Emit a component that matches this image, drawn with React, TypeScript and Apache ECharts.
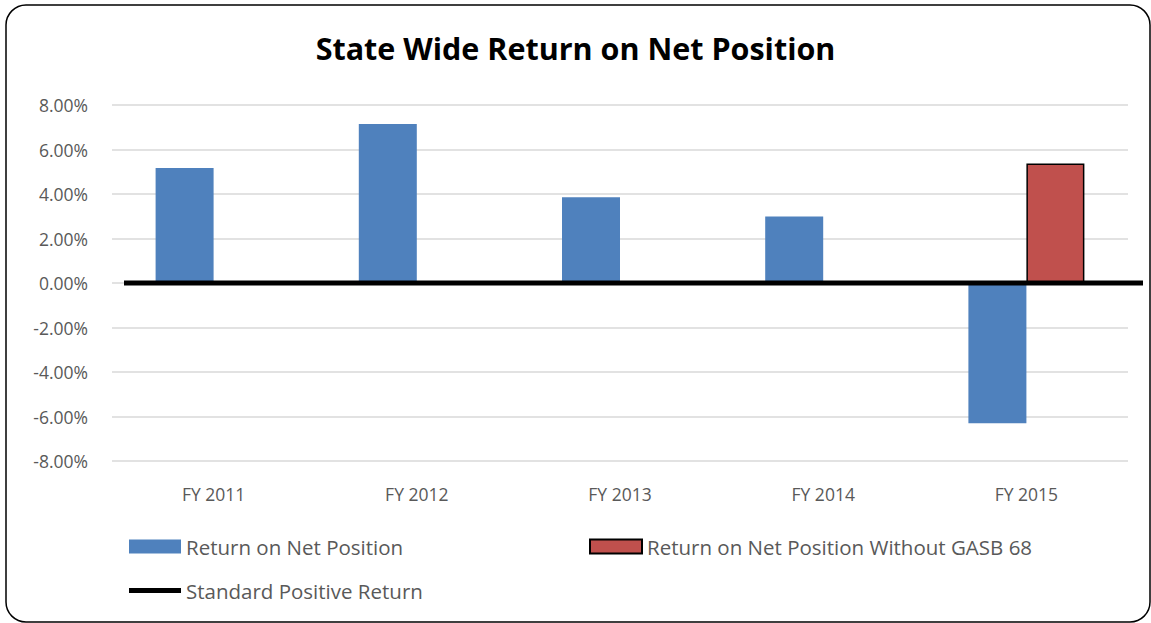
import React, { useEffect, useRef } from "react";
import * as echarts from "echarts";

const categories = ["FY 2011", "FY 2012", "FY 2013", "FY 2014", "FY 2015"];
const returnOnNetPosition = [5.17, 7.15, 3.85, 2.99, -6.3];
const returnWithoutGasb68 = [null, null, null, null, 5.37];
const zeroLineX = [0, 1];
const zeroLineY = [0, 0];
const yTicks = { min: -8, max: 8, interval: 2 };

const FONT = "'Open Sans', 'Noto Sans', sans-serif";

export default function App() {
  const ref = useRef<HTMLDivElement>(null);
  useEffect(() => {
    if (!ref.current) return;
    const chart = echarts.init(ref.current, null, { renderer: "svg" });
    const legendText = { fontFamily: FONT, fontSize: 20.5, color: "#595959" };
    chart.setOption({
      animation: false,
      backgroundColor: "#fff",
      title: {
        text: "State Wide Return on Net Position",
        left: "center",
        top: 27,
        textStyle: { fontFamily: FONT, fontWeight: "bold", fontSize: 30.5, color: "#000" },
      },
      graphic: [
        {
          type: "rect",
          shape: { x: 6, y: 5, width: 1144, height: 617, r: 20 },
          style: { fill: "none", stroke: "#000", lineWidth: 1.5 },
          silent: true,
          z: 100,
        },
      ],
      legend: [
        {
          data: [{ name: "Return on Net Position", icon: "rect" }],
          left: 124,
          top: 531,
          itemWidth: 52,
          itemHeight: 14,
          textStyle: legendText,
        },
        {
          data: [{ name: "Return on Net Position Without GASB 68", icon: "rect" }],
          left: 584,
          top: 531,
          itemWidth: 52,
          itemHeight: 14,
          textStyle: legendText,
        },
        {
          data: [{ name: "Standard Positive Return", icon: "rect", itemStyle: { color: "#000" } }],
          left: 124,
          top: 575,
          itemWidth: 52,
          itemHeight: 5,
          textStyle: legendText,
        },
      ],
      grid: [
        { left: 112, right: 23, top: 105, bottom: 162, containLabel: false },
        { left: 124, right: 8, top: 105, bottom: 162, containLabel: false },
      ],
      xAxis: [
        {
          type: "category",
          data: categories,
          gridIndex: 0,
          axisLine: { show: false, onZero: false },
          axisTick: { show: false },
          axisLabel: { margin: 24, fontFamily: FONT, fontSize: 17.5, color: "#595959" },
        },
        { type: "value", gridIndex: 1, min: 0, max: 1, show: false },
      ],
      yAxis: [
        {
          type: "value",
          gridIndex: 0,
          min: yTicks.min,
          max: yTicks.max,
          interval: yTicks.interval,
          axisLine: { show: false },
          axisTick: { show: false },
          axisLabel: {
            margin: 24,
            fontFamily: FONT,
            fontSize: 17.5,
            color: "#595959",
            formatter: (v: number) => v.toFixed(2) + "%",
          },
          splitLine: { lineStyle: { color: "#d9d9d9", width: 1.5 } },
        },
        { type: "value", gridIndex: 1, min: yTicks.min, max: yTicks.max, show: false },
      ],
      series: [
        {
          name: "Return on Net Position",
          type: "bar",
          xAxisIndex: 0,
          yAxisIndex: 0,
          data: returnOnNetPosition,
          barWidth: 58,
          barGap: "0%",
          itemStyle: { color: "#4f81bd" },
        },
        {
          name: "Return on Net Position Without GASB 68",
          type: "bar",
          xAxisIndex: 0,
          yAxisIndex: 0,
          data: returnWithoutGasb68,
          barWidth: 58,
          barGap: "0%",
          itemStyle: { color: "#c0504d", borderColor: "#000", borderWidth: 1.5 },
        },
        {
          name: "Standard Positive Return",
          type: "line",
          xAxisIndex: 1,
          yAxisIndex: 1,
          data: zeroLineX.map((x, i) => [x, zeroLineY[i]]),
          symbol: "none",
          lineStyle: { color: "#000", width: 5 },
          itemStyle: { color: "#000" },
          z: 5,
        },
      ],
    });
    return () => chart.dispose();
  }, []);
  return <div ref={ref} style={{ position: "absolute", left: 0, top: 0, width: 1151, height: 623 }} />;
}
